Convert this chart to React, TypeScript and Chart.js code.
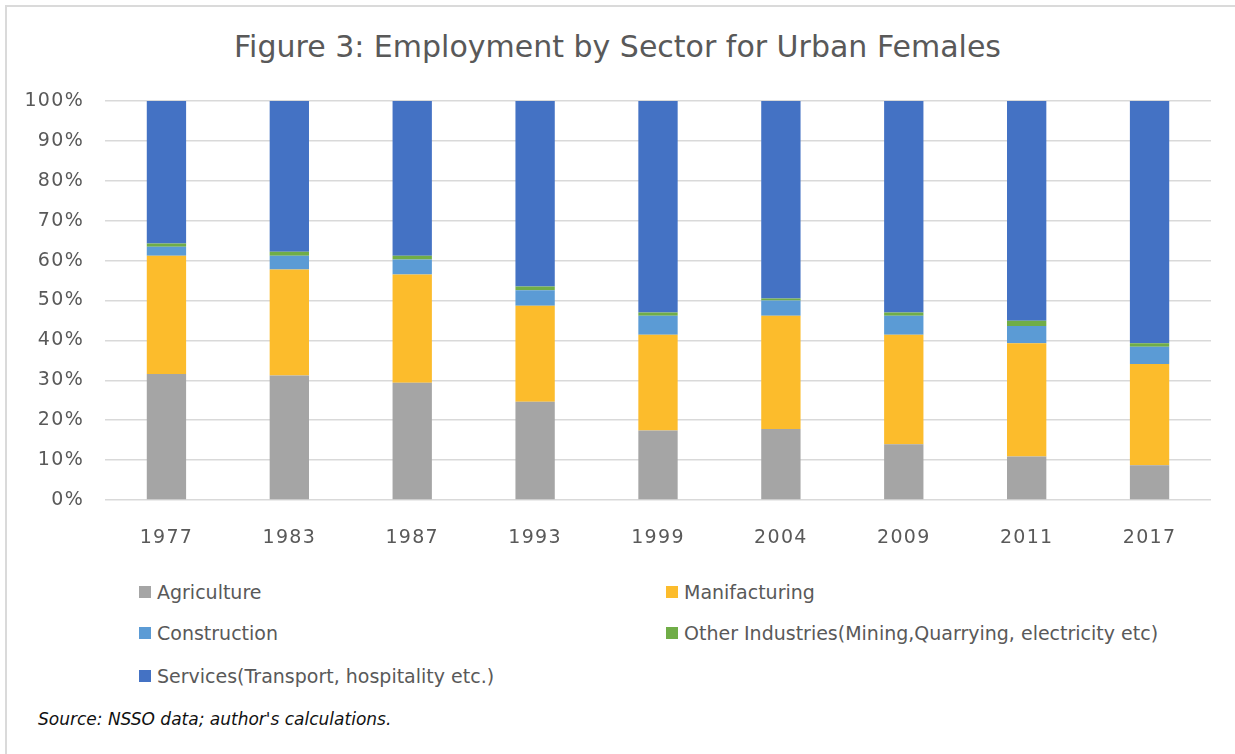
import React, { useEffect, useRef } from "react";
import { Chart, registerables } from "chart.js";

Chart.register(...registerables);

const years = ["1977", "1983", "1987", "1993", "1999", "2004", "2009", "2011", "2017"];
const agriculture = [31.6, 31.2, 29.4, 24.6, 17.4, 17.8, 14.0, 10.9, 8.7];
const manufacturing = [29.6, 26.6, 27.1, 24.1, 24.0, 28.4, 27.4, 28.4, 25.4];
const construction = [2.3, 3.4, 3.8, 3.9, 4.8, 3.8, 4.8, 4.3, 4.3];
const otherIndustries = [0.8, 1.0, 0.9, 0.9, 0.8, 0.5, 0.8, 1.3, 0.9];
const services = [35.7, 37.8, 38.8, 46.5, 53.0, 49.5, 53.0, 55.1, 60.7];
const yTicks = [0, 10, 20, 30, 40, 50, 60, 70, 80, 90, 100];

const seriesNames = [
  "Agriculture",
  "Manifacturing",
  "Construction",
  "Other Industries(Mining,Quarrying, electricity etc)",
  "Services(Transport, hospitality etc.)",
];
const seriesColors = ["#A5A5A5", "#FCBC2C", "#5B9BD5", "#70AD47", "#4472C4"];

const FONT = "'DejaVu Sans', sans-serif";

const spacingPlugin = {
  id: "letterSpacing",
  beforeDraw: (chart: any) => {
    try {
      (chart.ctx as any).letterSpacing = "1.3px";
    } catch (e) {
      /* ignore */
    }
  },
};

export default function App() {
  const ref = useRef<HTMLCanvasElement | null>(null);

  useEffect(() => {
    document.body.style.margin = "0";
    const ctx = ref.current;
    if (!ctx) return;
    const values = [agriculture, manufacturing, construction, otherIndustries, services];
    const chart = new Chart(ctx, {
      type: "bar",
      data: {
        labels: years,
        datasets: values.map((v, i) => ({
          label: seriesNames[i],
          data: v,
          backgroundColor: seriesColors[i],
          borderWidth: 0,
          categoryPercentage: 0.64,
          barPercentage: 0.5,
        })),
      },
      plugins: [spacingPlugin],
      options: {
        responsive: false,
        animation: false,
        maintainAspectRatio: false,
        layout: { padding: { top: 101, right: 24, left: 0, bottom: 0 } },
        plugins: {
          legend: { display: false },
          title: { display: false },
          tooltip: { enabled: false },
        },
        scales: {
          x: {
            stacked: true,
            grid: { display: false },
            border: { display: false },
            ticks: {
              color: "#595959",
              font: { family: FONT, size: 19 },
              padding: 19,
            },
            afterFit: (s: any) => {
              s.height = 60;
            },
          },
          y: {
            stacked: true,
            min: 0,
            max: 100,
            afterBuildTicks: (s: any) => {
              s.ticks = yTicks.map((v) => ({ value: v }));
            },
            grid: { color: "#D9D9D9", lineWidth: 1.5, drawTicks: false },
            border: { display: false },
            ticks: {
              color: "#595959",
              font: { family: FONT, size: 19 },
              padding: 21,
              callback: (v: any) => `${v}%`,
            },
            afterFit: (s: any) => {
              s.width = 105;
            },
          },
        },
      },
    });
    return () => chart.destroy();
  }, []);

  const legendItem = (i: number, x: number, y: number) => (
    <div
      key={i}
      style={{
        position: "absolute",
        left: x,
        top: y - 13,
        height: 26,
        display: "flex",
        alignItems: "center",
        whiteSpace: "nowrap",
        fontFamily: FONT,
        fontSize: 19,
        color: "#595959",
      }}
    >
      <span
        style={{
          display: "inline-block",
          width: 12,
          height: 12,
          background: seriesColors[i],
          marginRight: 6,
        }}
      />
      <span>{seriesNames[i]}</span>
    </div>
  );

  return (
    <div style={{ position: "relative", width: 1235, height: 754, background: "#fff", overflow: "hidden" }}>
      <div
        style={{
          position: "absolute",
          left: 5,
          top: 5,
          width: 1240,
          height: 760,
          borderTop: "2px solid #DADADA",
          borderLeft: "2px solid #DADADA",
        }}
      />
      <div
        style={{
          position: "absolute",
          left: 0,
          top: 27,
          width: 1235,
          textAlign: "center",
          fontFamily: FONT,
          fontSize: 30,
          color: "#595959",
          lineHeight: "40px",
        }}
      >
        Figure 3: Employment by Sector for Urban Females
      </div>
      <canvas ref={ref} width={1235} height={560} style={{ position: "absolute", left: 0, top: 0 }} />
      {legendItem(0, 139, 592)}
      {legendItem(1, 666, 592)}
      {legendItem(2, 139, 633)}
      {legendItem(3, 666, 633)}
      {legendItem(4, 139, 676)}
      <div
        style={{
          position: "absolute",
          left: 38,
          top: 708,
          fontFamily: FONT,
          fontStyle: "italic",
          fontSize: 17,
          lineHeight: "22px",
          color: "#111",
          whiteSpace: "nowrap",
        }}
      >
        Source: NSSO data; author's calculations.
      </div>
    </div>
  );
}
